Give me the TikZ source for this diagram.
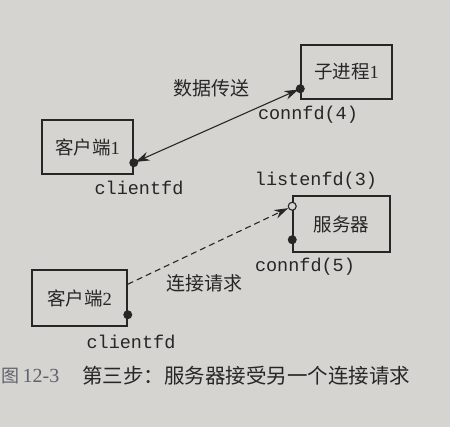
\documentclass[tikz,border=0pt]{standalone}
\usepackage{fontspec}
\setmainfont{Liberation Serif}
\setmonofont{Liberation Mono}
\newfontfamily\cjk{Noto Sans CJK SC}
\usetikzlibrary{arrows.meta,calc}
\definecolor{paper}{RGB}{214,212,208}
\definecolor{ink}{RGB}{40,38,37}
\definecolor{capgray}{RGB}{95,98,108}
\begin{document}
\begin{tikzpicture}[x=1pt,y=-1pt,
  >={Stealth[length=14pt,width=9pt]},
  box/.style={draw=ink,line width=1.5pt,text=ink,inner sep=0pt,font=\fontsize{18.5}{20}\selectfont},
  fdlabel/.style={text=ink,inner sep=0pt,font=\ttfamily\fontsize{18.5}{20}\selectfont},
  cjklabel/.style={text=ink,inner sep=0pt,font=\cjk\fontsize{19}{20}\selectfont},
  dotmark/.style={fill=ink},
  opendot/.style={draw=ink,fill=paper,line width=1.1pt}]
\fill[paper] (0,0) rectangle (450,427);
\useasboundingbox (0,0) rectangle (450,427);

% boxes
\node[box,minimum width=91pt,minimum height=54pt] (zj) at (346.5,72) {{\cjk 子进程}1};
\node[box,minimum width=91pt,minimum height=54pt] (c1) at (87.5,147) {{\cjk 客户端}1};
\node[box,minimum width=97pt,minimum height=56pt] (sv) at (341.5,224) {{\cjk 服务器}};
\node[box,minimum width=95pt,minimum height=56pt] (c2) at (79.5,298) {{\cjk 客户端}2};

% socket points
\coordinate (d1) at ([yshift=11pt]zj.south west);
\coordinate (d2) at ([yshift=12pt]c1.south east);
\coordinate (lo) at ([yshift=-11pt]sv.north west);
\coordinate (d3) at ([yshift=13pt]sv.south west);
\coordinate (d4) at ([yshift=12pt]c2.south east);
\coordinate (s4) at ([yshift=-15pt]c2.north east);

% connectors
\draw[ink,line width=1.1pt,<->,shorten <=2pt,shorten >=2pt] (d2) -- (d1);
\draw[ink,line width=1.1pt,dash pattern=on 6pt off 4pt,->,shorten >=4.5pt] (s4) -- (lo);

% dots
\fill[dotmark] (d1) circle (4.5pt);
\fill[dotmark] (d2) circle (4.5pt);
\fill[dotmark] (d3) circle (4.5pt);
\fill[dotmark] (d4) circle (4.5pt);
\draw[opendot] (lo) circle (4pt);

% labels
\node[fdlabel] (l1) at (308,115) {connfd(4)};
\node[fdlabel] (l2) at (139,188) {clientfd};
\node[fdlabel] (l3) at (316,181) {listenfd(3)};
\node[fdlabel] (l4) at (305,267) {connfd(5)};
\node[fdlabel] (l5) at (131,342) {clientfd};
\node[cjklabel] (t1) at (211,88) {数据传送};
\node[cjklabel] (t2) at (204,283) {连接请求};

% caption
\node[anchor=west,inner sep=0pt,text=capgray,font=\cjk\fontsize{18}{20}\selectfont] (cap0) at (1,376) {图};
\node[inner sep=0pt,text=capgray,font=\fontsize{20}{22}\selectfont] (cap1) at (41,376) {12-3};
\node[anchor=west,inner sep=0pt,text=ink,font=\cjk\fontsize{20.5}{22}\selectfont] (cap2) at (82,376) {第三步：服务器接受另一个连接请求};
\end{tikzpicture}
\end{document}
